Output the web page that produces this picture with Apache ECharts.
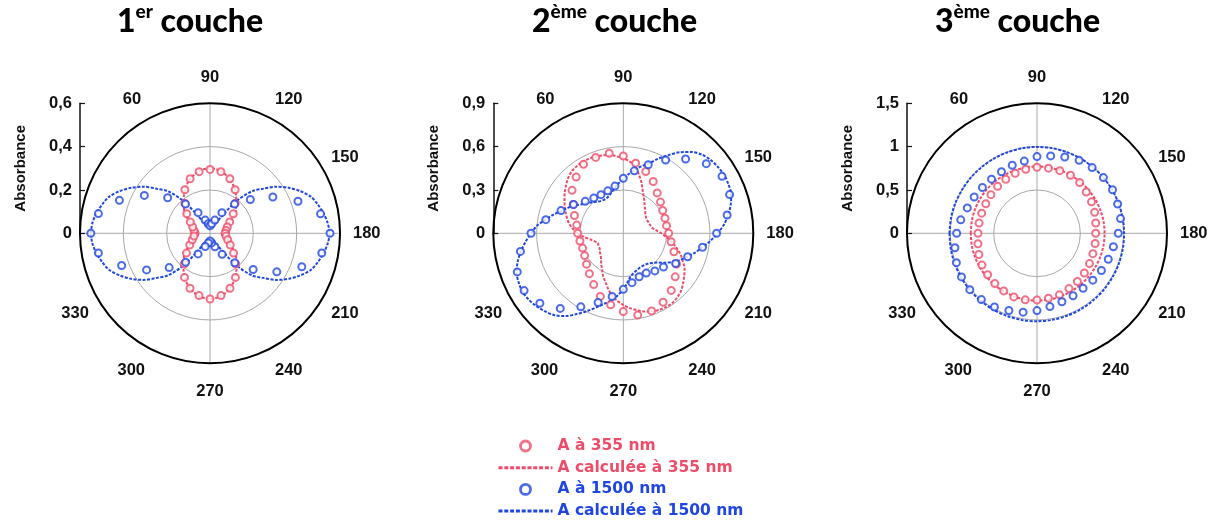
<!DOCTYPE html>
<html><head><meta charset="utf-8">
<script src="https://cdn.jsdelivr.net/npm/echarts@6/dist/echarts.min.js"></script>
<style>html,body{margin:0;padding:0;background:#fff}#c{width:1218px;height:521px}</style>
</head><body><div id="c"></div>
<script>
// ---------- DATA ----------
const TITLE_NUM = ['1', '2', '3'];
const TITLE_SUP = ['er', 'ème', 'ème'];
const TITLE_WORD = 'couche';
const RADIAL_MAX = [0.6, 0.9, 1.5];
const SERIES_NAMES = ['A à 355 nm', 'A calculée à 355 nm', 'A à 1500 nm', 'A calculée à 1500 nm'];
const ANGLE_LABELS = [60, 90, 120, 150, 180, 210, 240, 270, 300, 330];

// measured angles (points every 10°)
const ANG_PTS = [0,10,20,30,40,50,60,70,80,90,100,110,120,130,140,150,160,170,180,190,200,210,220,230,240,250,260,270,280,290,300,310,320,330,340,350];
// calculated curves sampled every 5°
const ANG_5 = [0,5,10,15,20,25,30,35,40,45,50,55,60,65,70,75,80,85,90,95,100,105,110,115,120,125,130,135,140,145,150,155,160,165,170,175,180,185,190,195,200,205,210,215,220,225,230,235,240,245,250,255,260,265,270,275,280,285,290,295,300,305,310,315,320,325,330,335,340,345,350,355,360];
// calculated curves sampled every 10° (closed)
const ANG_10 = [0,10,20,30,40,50,60,70,80,90,100,110,120,130,140,150,160,170,180,190,200,210,220,230,240,250,260,270,280,290,300,310,320,330,340,350,360];

// 1re couche
const P1_RED_PTS = [0.07,0.075,0.085,0.105,0.14,0.18,0.232,0.268,0.289,0.295,0.289,0.268,0.232,0.18,0.14,0.105,0.085,0.075,0.07,0.075,0.087,0.108,0.142,0.185,0.235,0.27,0.292,0.303,0.292,0.27,0.235,0.185,0.142,0.108,0.087,0.075];
const P1_RED_CALC = [0.054,0.055,0.058,0.065,0.075,0.09,0.11,0.13,0.155,0.17,0.19,0.21,0.232,0.25,0.268,0.28,0.292,0.298,0.30,
  0.298,0.292,0.28,0.268,0.25,0.232,0.21,0.19,0.17,0.155,0.13,0.11,0.09,0.075,0.065,0.058,0.055,0.054,
  0.055,0.058,0.065,0.075,0.09,0.11,0.13,0.155,0.172,0.192,0.212,0.235,0.253,0.27,0.283,0.294,0.3,0.303,
  0.3,0.294,0.283,0.27,0.253,0.235,0.212,0.192,0.172,0.155,0.13,0.11,0.09,0.075,0.065,0.058,0.055,0.054];
const P1_BLUE_PTS = [0.55,0.523,0.445,0.35,0.255,0.176,0.11,0.065,0.045,0.035,0.045,0.065,0.11,0.176,0.243,0.335,0.432,0.518,0.554,0.524,0.451,0.356,0.26,0.178,0.112,0.066,0.045,0.035,0.045,0.065,0.11,0.175,0.246,0.338,0.434,0.523];
const P1_BLUE_CALC = [0.55,0.545,0.532,0.515,0.495,0.46,0.42,0.375,0.32,0.275,0.20,0.105,0.05,0.035,0.03,0.03,0.03,0.03,0.03,
  0.03,0.03,0.03,0.03,0.035,0.05,0.105,0.20,0.275,0.32,0.375,0.42,0.46,0.495,0.515,0.532,0.545,0.552,
  0.545,0.532,0.515,0.495,0.46,0.42,0.375,0.32,0.275,0.20,0.105,0.05,0.035,0.03,0.03,0.03,0.03,0.03,
  0.03,0.03,0.03,0.03,0.035,0.05,0.105,0.20,0.275,0.32,0.375,0.42,0.46,0.495,0.515,0.532,0.545,0.55];

// 2ème couche
const P2_RED_PTS = [0.316,0.327,0.36,0.40,0.463,0.508,0.551,0.559,0.563,0.535,0.493,0.455,0.414,0.365,0.336,0.315,0.307,0.304,0.314,0.336,0.373,0.426,0.469,0.516,0.551,0.572,0.575,0.542,0.503,0.465,0.41,0.365,0.332,0.309,0.30,0.305];
const P2_RED_CALC = [0.318,0.35,0.38,0.403,0.425,0.448,0.47,0.495,0.518,0.54,0.558,0.565,0.569,0.568,0.564,0.558,0.551,0.535,0.519,
  0.50,0.47,0.42,0.37,0.32,0.285,0.255,0.232,0.215,0.20,0.192,0.188,0.19,0.192,0.196,0.205,0.23,0.263,
  0.30,0.338,0.38,0.42,0.455,0.49,0.515,0.54,0.565,0.58,0.59,0.59,0.585,0.576,0.56,0.54,0.52,0.496,
  0.47,0.44,0.40,0.36,0.33,0.293,0.265,0.24,0.22,0.21,0.198,0.192,0.19,0.19,0.21,0.237,0.275,0.318];
const P2_BLUE_PTS = [0.639,0.545,0.459,0.398,0.344,0.318,0.309,0.313,0.332,0.381,0.439,0.505,0.586,0.671,0.750,0.789,0.783,0.730,0.646,0.557,0.474,0.418,0.363,0.34,0.318,0.321,0.347,0.388,0.444,0.510,0.588,0.679,0.754,0.793,0.781,0.723];
const P2_BLUE_CALC = [0.639,0.60,0.545,0.50,0.455,0.42,0.385,0.35,0.325,0.305,0.285,0.272,0.268,0.27,0.28,0.30,0.325,0.35,0.375,
  0.41,0.445,0.48,0.515,0.57,0.625,0.685,0.735,0.77,0.79,0.80,0.807,0.803,0.795,0.77,0.738,0.70,0.653,
  0.605,0.556,0.515,0.472,0.435,0.395,0.355,0.315,0.29,0.272,0.265,0.263,0.265,0.272,0.283,0.30,0.34,0.388,
  0.43,0.47,0.505,0.545,0.595,0.645,0.70,0.74,0.765,0.785,0.80,0.807,0.80,0.787,0.757,0.72,0.68,0.639];

// 3ème couche
const P3_RED_PTS = [0.681,0.679,0.679,0.682,0.694,0.707,0.72,0.737,0.75,0.762,0.763,0.769,0.773,0.766,0.742,0.726,0.708,0.688,0.677,0.681,0.686,0.699,0.713,0.726,0.737,0.756,0.761,0.769,0.78,0.781,0.768,0.757,0.744,0.733,0.714,0.692];
const P3_RED_CALC = [0.765,0.765,0.767,0.768,0.769,0.77,0.77,0.771,0.771,0.772,0.773,0.774,0.775,0.776,0.777,0.778,0.779,0.78,0.78,0.78,0.779,0.778,0.778,0.777,0.777,0.777,0.777,0.777,0.776,0.775,0.773,0.771,0.769,0.767,0.766,0.765,0.765];
const P3_BLUE_PTS = [0.927,0.893,0.856,0.837,0.822,0.816,0.82,0.835,0.846,0.885,0.907,0.937,0.972,0.99,1.0,1.006,0.99,0.979,0.938,0.895,0.875,0.858,0.841,0.827,0.832,0.841,0.859,0.892,0.924,0.948,0.982,0.999,1.012,1.006,0.99,0.962];
const P3_BLUE_CALC = [1.01,1.008,1.005,1.0,0.998,0.996,0.995,0.995,0.996,0.997,0.998,0.998,0.999,1.0,1.0,1.002,1.003,1.004,1.005,1.006,1.007,1.008,1.009,1.01,1.012,1.013,1.014,1.015,1.015,1.015,1.015,1.014,1.014,1.013,1.012,1.011,1.01];

// ---------- LAYOUT / STYLE ----------
const RED = '#ee4d6a';
const BLUE = '#1f46e2';
const CENTERS = [[210, 233.3], [623.3, 233.3], [1037, 233.3]];
const R = 130;
const TITLE_LEFT = [117, 532, 935];
// per-label padding [top, right, bottom, left] to place angle labels on a ring outside the circle
const LABEL_PAD = {
  60: [0, 3.8, 13.2, 0], 90: [0, 0, 17.8, 0], 120: [0, 0, 13.2, 0], 150: [0, 0, 2.5, 8.6],
  180: [0, 0, 0, 13], 210: [6.5, 0, 0, 8.6], 240: [15.6, 0, 0, 0], 270: [19.9, 0, 0, 0],
  300: [15.6, 0, 0, 0], 330: [6.5, 8.6, 0, 0]
};
const LABEL_FONT = { fontFamily: 'Liberation Sans', fontWeight: 'bold', fontSize: 16.5, color: '#111' };
const angleRich = {};
ANGLE_LABELS.forEach(a => { angleRich['a' + a] = Object.assign({ padding: LABEL_PAD[a] }, LABEL_FONT); });

const PANELS = [
  { redPts: P1_RED_PTS, redCalc: P1_RED_CALC, bluePts: P1_BLUE_PTS, blueCalc: P1_BLUE_CALC, calcAng: ANG_5 },
  { redPts: P2_RED_PTS, redCalc: P2_RED_CALC, bluePts: P2_BLUE_PTS, blueCalc: P2_BLUE_CALC, calcAng: ANG_5 },
  { redPts: P3_RED_PTS, redCalc: P3_RED_CALC, bluePts: P3_BLUE_PTS, blueCalc: P3_BLUE_CALC, calcAng: ANG_10 }
];

const pairs = (vals, angs) => vals.map((v, i) => [v, angs[i]]);
const fmtComma = v => String(+(+v).toFixed(2)).replace('.', ',');
const TRANSPARENT = 'rgba(0,0,0,0)';

const option = {
  animation: false,
  backgroundColor: '#fff',
  title: [], polar: [], angleAxis: [], radiusAxis: [], grid: [], xAxis: [], yAxis: [], series: [],
  legend: {
    orient: 'vertical', left: 497, top: 438, height: 120, padding: 0,
    itemWidth: 54, itemHeight: 10, itemGap: 5.7, selectedMode: false,
    textStyle: { fontFamily: 'DejaVu Sans', fontWeight: 'bold', fontSize: 15.5 },
    data: [
      { name: SERIES_NAMES[0], icon: 'circle', itemStyle: { color: '#fff', borderColor: RED, borderWidth: 2.8 }, textStyle: { color: RED } },
      { name: SERIES_NAMES[1], itemStyle: { color: TRANSPARENT, borderColor: TRANSPARENT, borderWidth: 0 }, lineStyle: { width: 3, type: [4, 1.8] }, textStyle: { color: RED } },
      { name: SERIES_NAMES[2], icon: 'circle', itemStyle: { color: '#fff', borderColor: BLUE, borderWidth: 2.8 }, textStyle: { color: BLUE } },
      { name: SERIES_NAMES[3], itemStyle: { color: TRANSPARENT, borderColor: TRANSPARENT, borderWidth: 0 }, lineStyle: { width: 3, type: [4, 1.8] }, textStyle: { color: BLUE } }
    ]
  }
};

PANELS.forEach((p, i) => {
  const M = RADIAL_MAX[i];
  const c = CENTERS[i];
  option.title.push({
    left: TITLE_LEFT[i], top: 2, padding: 0,
    text: '{n|' + TITLE_NUM[i] + '}{s|' + TITLE_SUP[i] + '}{n| ' + TITLE_WORD + '}',
    textStyle: {
      rich: {
        n: { fontFamily: 'Lato', fontWeight: 900, fontSize: 32, lineHeight: 40, color: '#000' },
        s: { fontFamily: 'Lato', fontWeight: 900, fontSize: 19, lineHeight: 20, color: '#000', verticalAlign: 'top' }
      }
    }
  });
  // polar A: outer circle + angle labels ; polar B: grid circles + cross
  option.polar.push({ center: c, radius: R });
  option.polar.push({ center: c, radius: R });
  option.angleAxis.push({
    polarIndex: 2 * i, type: 'value', min: 0, max: 360, interval: 30, startAngle: 180, clockwise: true, z: 1,
    axisLine: { show: true, lineStyle: { color: '#000', width: 2 } },
    axisTick: { show: false }, splitLine: { show: false },
    axisLabel: {
      show: true, margin: 0, color: '#111', fontFamily: 'Liberation Sans', fontWeight: 'bold', fontSize: 16.5,
      formatter: v => LABEL_PAD[v] ? '{a' + v + '|' + v + '}' : '',
      rich: angleRich
    }
  });
  option.angleAxis.push({
    polarIndex: 2 * i + 1, type: 'value', min: 0, max: 360, interval: 90, startAngle: 180, clockwise: true, z: 0,
    axisLine: { show: false }, axisTick: { show: false }, axisLabel: { show: false },
    splitLine: { show: true, lineStyle: { color: '#a8a8a8', width: 1 } }
  });
  option.radiusAxis.push({
    polarIndex: 2 * i, type: 'value', min: 0, max: M,
    axisLine: { show: false }, axisTick: { show: false }, axisLabel: { show: false }, splitLine: { show: false }
  });
  option.radiusAxis.push({
    polarIndex: 2 * i + 1, type: 'value', min: 0, max: M, interval: M / 3, z: 0,
    axisLine: { show: false }, axisTick: { show: false }, axisLabel: { show: false },
    splitLine: { show: true, lineStyle: { color: '#a8a8a8', width: 1 } }
  });
  // vertical absorbance scale
  option.grid.push({ left: c[0] - R, top: c[1] - R, width: 10, height: R });
  option.xAxis.push({ gridIndex: i, type: 'value', show: false, min: 0, max: 1 });
  option.yAxis.push({
    gridIndex: i, type: 'value', min: 0, max: M, interval: M / 3,
    axisLine: { show: true, lineStyle: { color: '#111', width: 1.5 } },
    axisTick: { show: true, inside: true, length: 5, lineStyle: { color: '#111', width: 1.2 } },
    splitLine: { show: false },
    axisLabel: { formatter: fmtComma, color: '#111', fontFamily: 'Liberation Sans', fontWeight: 'bold', fontSize: 16.5, margin: 8 },
    name: 'Absorbance', nameLocation: 'middle', nameRotate: 90, nameGap: 52,
    nameTextStyle: { fontFamily: 'Liberation Sans', fontWeight: 'bold', fontSize: 15, color: '#111' }
  });
  const lineCommon = { type: 'line', coordinateSystem: 'polar', polarIndex: 2 * i, symbol: 'none', smooth: 0.3, z: 3, silent: true };
  const ptCommon = { type: 'scatter', coordinateSystem: 'polar', polarIndex: 2 * i, symbol: 'emptyCircle', symbolSize: 7, z: 4, silent: true };
  option.series.push(Object.assign({}, lineCommon, {
    name: SERIES_NAMES[1], data: pairs(p.redCalc, p.calcAng),
    lineStyle: { color: RED, width: 2, type: [3, 1.5] }, itemStyle: { color: RED }
  }));
  option.series.push(Object.assign({}, lineCommon, {
    name: SERIES_NAMES[3], data: pairs(p.blueCalc, p.calcAng),
    lineStyle: { color: BLUE, width: 2, type: [3, 1.5] }, itemStyle: { color: BLUE }
  }));
  option.series.push(Object.assign({}, ptCommon, {
    name: SERIES_NAMES[0], data: pairs(p.redPts, ANG_PTS),
    itemStyle: { color: RED, borderWidth: 2 }
  }));
  option.series.push(Object.assign({}, ptCommon, {
    name: SERIES_NAMES[2], data: pairs(p.bluePts, ANG_PTS),
    itemStyle: { color: BLUE, borderWidth: 2 }
  }));
});

const chart = echarts.init(document.getElementById('c'), null, { renderer: 'canvas' });
chart.setOption(option);
</script>
</body></html>
